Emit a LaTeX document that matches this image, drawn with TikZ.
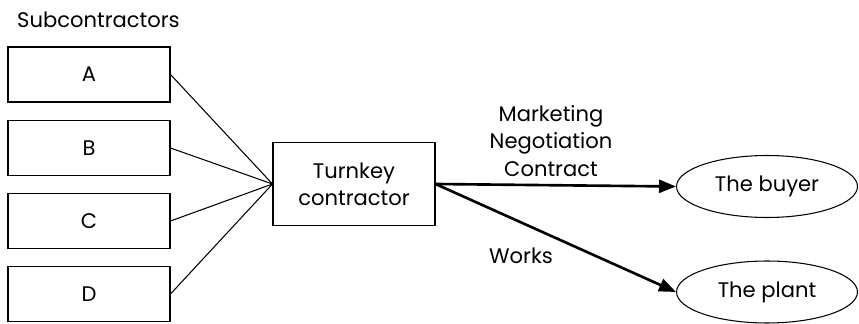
\documentclass[tikz,border=0pt]{standalone}
\usepackage{fontspec}
\setmainfont{Poppins}
\usetikzlibrary{arrows.meta,shapes.geometric}

\tikzset{
    subbox/.style={draw, line width=0.6pt, minimum width=3.24cm, minimum height=1.1cm, inner sep=0pt},
    mainbox/.style={draw, line width=0.6pt, minimum width=3.24cm, minimum height=1.66cm, align=center, inner sep=0pt},
    goal/.style={draw, ellipse, line width=0.6pt, minimum width=3.62cm, minimum height=1.24cm, inner sep=0pt},
    link/.style={line width=0.6pt},
    flow/.style={line width=1.5pt, -{Triangle[length=3.4mm, width=2.6mm]}}
}

\begin{document}
\begin{tikzpicture}[x=0.02cm, y=-0.02cm, font=\fontsize{12pt}{15.5pt}\selectfont]
    \useasboundingbox (0,0) rectangle (859,324);

    % Title
    \node[anchor=west] (title) at (11,20) {Subcontractors};

    % Subcontractor boxes
    \foreach \name/\y in {A/74.5, B/148, C/221, D/294} {
        \node[subbox] (\name) at (89,\y) {\name};
    }

    % Main contractor
    \node[mainbox] (tk) at (354,184) {Turnkey\\contractor};

    % Buyer and plant
    \node[goal] (buyer) at (767,186.5) {The buyer};
    \node[goal] (plant) at (767,292) {The plant};

    % Links from subcontractors
    \foreach \name in {A,B,C,D} {
        \draw[link] (\name.east) -- (tk.west);
    }

    % Flows
    \draw[flow] (tk.east) -- (buyer.west);
    \draw[flow] (tk.east) -- (plant.west);

    % Labels
    \node[align=center] (deal) at (551,141) {Marketing\\Negotiation\\Contract};
    \node (works) at (521,256) {Works};
\end{tikzpicture}
\end{document}
